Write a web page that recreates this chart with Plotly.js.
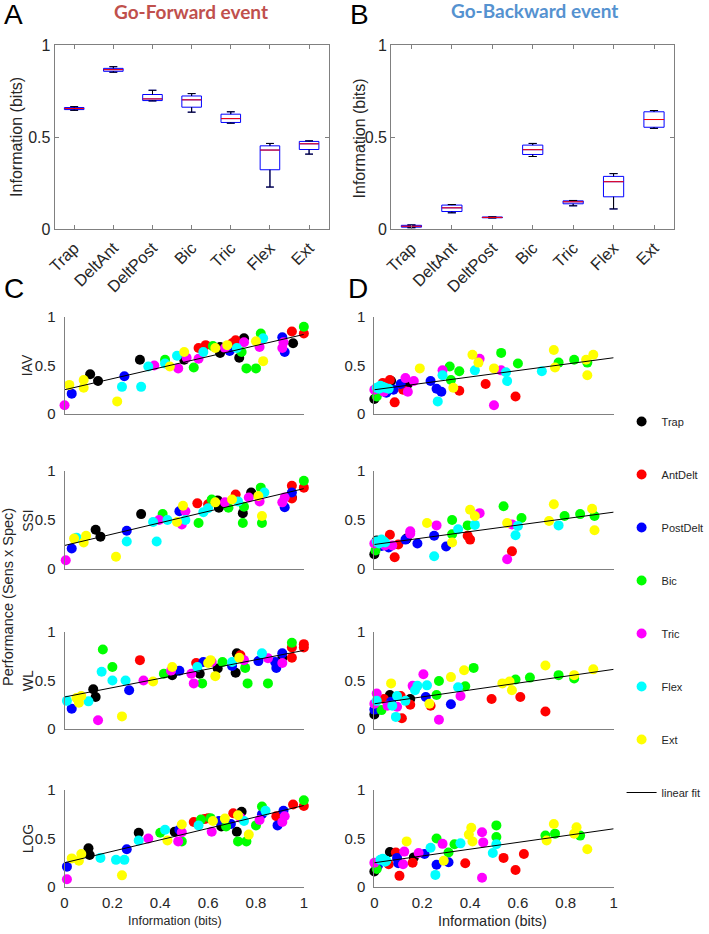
<!DOCTYPE html>
<html><head><meta charset="utf-8">
<script src="https://cdn.plot.ly/plotly-3.0.1.min.js"></script>
<style>body{margin:0;background:#fff}#chart{width:709px;height:934px}</style>
</head><body><div id="chart"></div>
<script>
// ---------- categories ----------
const muscles = ['Trap','AntDelt','PostDelt','Bic','Tric','Flex','Ext'];
const muscleColors = ['#000000','#ff0000','#0000ff','#00ff00','#ff00ff','#00ffff','#ffff00'];
const boxLabels = ['Trap','DeltAnt','DeltPost','Bic','Tric','Flex','Ext'];
const boxPos = [1,2,3,4,5,6,7];

// ---------- Panel A: Go-Forward (box stats) ----------
const fwdLo  = [0.645,0.852,0.696,0.635,0.575,0.228,0.407];
const fwdQ1  = [0.649,0.857,0.698,0.662,0.579,0.322,0.432];
const fwdMed = [0.655,0.866,0.707,0.702,0.600,0.429,0.463];
const fwdQ3  = [0.660,0.873,0.731,0.723,0.624,0.452,0.476];
const fwdHi  = [0.665,0.882,0.754,0.736,0.637,0.465,0.479];

// ---------- Panel B: Go-Backward (box stats) ----------
const bwdLo  = [0.007,0.088,0.060,0.394,0.126,0.109,0.547];
const bwdQ1  = [0.010,0.095,0.061,0.405,0.137,0.175,0.553];
const bwdMed = [0.015,0.115,0.063,0.431,0.148,0.257,0.595];
const bwdQ3  = [0.020,0.130,0.065,0.456,0.153,0.286,0.637];
const bwdHi  = [0.022,0.133,0.066,0.465,0.155,0.301,0.644];

// ---------- Panel C (Go-Forward) scatter: x = information, y = performance, m = muscle index ----------
const cIAV_x = [0.00,0.03,0.02,0.08,0.08,0.107,0.14,0.22,0.25,0.24,0.32,0.315,0.35,0.375,0.42,0.42,0.44,0.475,0.47,0.50,0.50,0.51,0.54,0.56,0.56,0.58,0.59,0.62,0.63,0.65,0.65,0.67,0.68,0.69,0.72,0.715,0.73,0.74,0.75,0.75,0.76,0.80,0.80,0.815,0.82,0.83,0.83,0.91,0.92,0.91,0.915,0.95,0.955,1.0,1.0,0.70];
const cIAV_y = [0.09,0.21,0.30,0.35,0.27,0.41,0.34,0.13,0.39,0.28,0.28,0.56,0.49,0.50,0.52,0.56,0.49,0.47,0.60,0.56,0.64,0.58,0.48,0.57,0.68,0.64,0.71,0.70,0.68,0.63,0.69,0.68,0.71,0.65,0.68,0.76,0.58,0.64,0.78,0.74,0.47,0.47,0.75,0.69,0.83,0.78,0.545,0.79,0.64,0.68,0.74,0.85,0.73,0.83,0.90,0.73];
const cIAV_m = [4,2,6,6,6,0,0,6,2,5,5,0,5,4,5,3,6,4,5,0,6,4,3,4,1,5,1,3,6,0,0,4,6,2,5,1,0,3,0,4,3,3,6,4,3,5,6,2,2,4,4,1,0,1,3,1];

const cSSI_x = [0.005,0.03,0.05,0.04,0.08,0.09,0.13,0.15,0.215,0.26,0.26,0.32,0.37,0.395,0.385,0.41,0.43,0.47,0.49,0.48,0.495,0.505,0.505,0.56,0.555,0.58,0.60,0.615,0.63,0.645,0.64,0.67,0.685,0.70,0.715,0.725,0.745,0.75,0.745,0.78,0.77,0.81,0.815,0.825,0.825,0.82,0.835,0.91,0.92,0.92,0.95,0.95,0.95,1.0,1.0,0.60,0.95];
const cSSI_y = [0.09,0.21,0.32,0.31,0.27,0.34,0.40,0.33,0.125,0.39,0.28,0.56,0.48,0.50,0.28,0.56,0.50,0.48,0.455,0.59,0.645,0.59,0.50,0.47,0.67,0.58,0.62,0.71,0.68,0.625,0.70,0.68,0.625,0.71,0.76,0.69,0.57,0.635,0.47,0.78,0.73,0.745,0.69,0.54,0.47,0.83,0.78,0.68,0.73,0.63,0.85,0.73,0.78,0.83,0.90,0.66,0.72];
const cSSI_m = [4,2,5,6,6,6,0,0,6,2,5,0,5,4,5,3,5,6,4,2,6,4,5,3,1,5,5,3,6,0,0,4,3,6,1,5,0,3,3,0,4,6,4,6,3,3,5,4,4,2,1,0,2,1,3,1,1];

const cWL_x = [0.01,0.03,0.05,0.07,0.06,0.10,0.12,0.13,0.14,0.16,0.155,0.20,0.20,0.24,0.255,0.27,0.315,0.33,0.37,0.415,0.45,0.445,0.45,0.48,0.53,0.54,0.575,0.55,0.555,0.58,0.565,0.60,0.615,0.61,0.63,0.64,0.66,0.70,0.70,0.715,0.72,0.735,0.73,0.75,0.755,0.765,0.81,0.825,0.85,0.85,0.88,0.885,0.91,0.91,0.91,0.95,0.95,0.95,1.0,1.0];
const cWL_y = [0.29,0.21,0.32,0.34,0.27,0.285,0.41,0.33,0.09,0.82,0.59,0.64,0.50,0.13,0.50,0.40,0.71,0.50,0.49,0.57,0.555,0.60,0.64,0.60,0.57,0.47,0.47,0.68,0.64,0.69,0.57,0.68,0.69,0.71,0.545,0.625,0.69,0.69,0.65,0.58,0.78,0.76,0.735,0.71,0.63,0.47,0.70,0.78,0.73,0.47,0.69,0.63,0.68,0.735,0.78,0.735,0.84,0.89,0.84,0.875];
const cWL_m = [5,2,6,6,6,5,0,0,4,3,5,3,5,6,5,2,1,4,6,3,0,4,6,2,4,4,3,1,5,2,0,6,4,6,6,0,3,5,2,0,0,1,6,4,3,3,2,5,4,3,2,2,4,0,2,1,1,3,1,1];

const cLOG_x = [0.01,0.01,0.03,0.06,0.07,0.10,0.105,0.15,0.215,0.25,0.24,0.26,0.31,0.31,0.35,0.40,0.42,0.43,0.46,0.48,0.49,0.475,0.49,0.49,0.54,0.56,0.57,0.585,0.60,0.615,0.61,0.62,0.655,0.645,0.675,0.67,0.695,0.705,0.72,0.74,0.725,0.735,0.75,0.725,0.76,0.77,0.80,0.815,0.825,0.825,0.84,0.885,0.89,0.91,0.92,0.915,0.955,1.0,1.0];
const cLOG_y = [0.08,0.21,0.295,0.27,0.34,0.40,0.33,0.30,0.28,0.28,0.12,0.39,0.56,0.48,0.50,0.56,0.59,0.48,0.57,0.59,0.565,0.47,0.47,0.645,0.67,0.635,0.695,0.70,0.71,0.57,0.71,0.68,0.625,0.68,0.625,0.705,0.65,0.76,0.57,0.775,0.74,0.715,0.68,0.47,0.47,0.54,0.635,0.69,0.75,0.83,0.785,0.73,0.635,0.67,0.73,0.785,0.85,0.835,0.895];
const cLOG_m = [4,2,6,6,6,0,0,5,5,5,6,2,0,5,4,3,5,6,0,2,4,4,3,6,1,5,3,1,1,4,3,6,0,2,3,6,2,1,0,0,6,4,5,3,3,6,3,4,2,3,5,1,2,4,4,2,1,1,3];

// ---------- Panel D (Go-Backward) scatter ----------
const dIAV_x = [0.0,0.01,0.0,0.01,0.015,0.025,0.035,0.04,0.05,0.045,0.06,0.065,0.07,0.08,0.085,0.12,0.11,0.14,0.13,0.14,0.165,0.19,0.235,0.26,0.28,0.265,0.285,0.285,0.315,0.32,0.33,0.355,0.355,0.41,0.42,0.435,0.44,0.465,0.50,0.50,0.53,0.53,0.55,0.555,0.59,0.60,0.70,0.75,0.755,0.77,0.835,0.89,0.885,0.89,0.915,0.02,0.035];
const dIAV_y = [0.155,0.18,0.25,0.27,0.22,0.29,0.32,0.23,0.22,0.27,0.26,0.35,0.34,0.25,0.12,0.25,0.31,0.31,0.37,0.23,0.34,0.47,0.34,0.26,0.23,0.13,0.45,0.40,0.49,0.35,0.27,0.24,0.44,0.61,0.45,0.53,0.57,0.31,0.09,0.47,0.63,0.45,0.43,0.34,0.18,0.52,0.44,0.66,0.48,0.53,0.56,0.53,0.56,0.40,0.61,0.26,0.28];
const dIAV_m = [0,3,4,5,2,5,1,4,2,5,5,1,0,2,1,1,2,0,4,4,4,6,2,2,2,5,4,5,3,3,6,1,3,6,5,6,4,1,4,6,3,4,5,5,1,3,5,6,6,3,3,3,6,6,6,5,5];

const dSSI_x = [0.0,0.005,0.0,0.01,0.01,0.03,0.03,0.045,0.045,0.065,0.06,0.075,0.085,0.10,0.13,0.135,0.15,0.15,0.18,0.22,0.25,0.25,0.26,0.30,0.325,0.325,0.325,0.35,0.39,0.40,0.39,0.40,0.42,0.42,0.44,0.54,0.555,0.555,0.575,0.575,0.59,0.60,0.615,0.73,0.75,0.77,0.795,0.86,0.91,0.92,0.92,0.02,0.04];
const dSSI_y = [0.15,0.19,0.26,0.28,0.29,0.235,0.30,0.24,0.27,0.35,0.22,0.24,0.12,0.25,0.30,0.31,0.36,0.385,0.26,0.47,0.34,0.13,0.445,0.23,0.50,0.355,0.27,0.405,0.34,0.30,0.445,0.605,0.54,0.45,0.57,0.64,0.47,0.10,0.455,0.18,0.345,0.44,0.52,0.49,0.66,0.445,0.54,0.56,0.615,0.395,0.54,0.26,0.28];
const dSSI_m = [0,3,4,5,0,2,5,4,5,1,2,4,1,1,2,0,4,4,2,6,2,5,4,2,3,3,6,5,1,1,3,6,6,5,4,3,6,4,4,1,5,5,3,6,6,5,3,3,6,6,3,5,5];

const dWL_x = [0.0,0.0,0.01,0.01,0.0,0.03,0.04,0.07,0.065,0.055,0.07,0.075,0.09,0.11,0.095,0.095,0.115,0.13,0.15,0.15,0.16,0.17,0.18,0.205,0.215,0.22,0.23,0.235,0.26,0.27,0.27,0.32,0.32,0.35,0.36,0.375,0.38,0.415,0.49,0.535,0.565,0.575,0.59,0.61,0.65,0.715,0.715,0.77,0.835,0.835,0.915];
const dWL_y = [0.15,0.20,0.365,0.29,0.26,0.195,0.31,0.47,0.35,0.24,0.28,0.24,0.125,0.34,0.34,0.23,0.11,0.29,0.31,0.25,0.445,0.40,0.445,0.565,0.33,0.45,0.26,0.24,0.35,0.095,0.495,0.535,0.255,0.43,0.34,0.605,0.44,0.63,0.31,0.47,0.49,0.40,0.51,0.33,0.53,0.18,0.655,0.555,0.555,0.52,0.615];
const dWL_m = [0,2,4,5,4,3,1,6,0,4,2,5,5,1,5,4,1,5,0,1,4,5,5,4,2,5,6,1,3,4,3,6,2,5,4,6,3,3,1,6,6,6,3,1,3,1,6,3,6,3,6];

const dLOG_x = [0.0,0.01,0.0,0.005,0.025,0.065,0.09,0.06,0.035,0.05,0.095,0.10,0.105,0.12,0.125,0.135,0.16,0.165,0.185,0.21,0.235,0.26,0.255,0.26,0.285,0.29,0.31,0.31,0.335,0.36,0.38,0.395,0.405,0.41,0.45,0.455,0.45,0.495,0.51,0.51,0.51,0.54,0.59,0.625,0.715,0.72,0.75,0.755,0.845,0.835,0.86,0.89,0.015,0.045];
const dLOG_y = [0.16,0.185,0.25,0.24,0.28,0.36,0.355,0.235,0.29,0.27,0.30,0.245,0.115,0.235,0.365,0.47,0.25,0.305,0.35,0.34,0.405,0.23,0.125,0.50,0.445,0.27,0.255,0.355,0.44,0.45,0.245,0.54,0.61,0.47,0.565,0.46,0.095,0.35,0.635,0.515,0.44,0.30,0.175,0.34,0.53,0.48,0.65,0.55,0.615,0.55,0.53,0.39,0.22,0.26];
const dLOG_m = [0,3,4,2,5,0,1,1,5,5,2,2,1,4,4,6,1,0,4,2,5,2,5,3,4,6,2,3,3,5,1,6,6,6,4,4,4,5,3,3,5,1,1,1,3,6,6,3,6,6,3,6,2,5];

// ---------- linear fits (value at information = 0 and = 1), rows IAV, SSI, WL, LOG ----------
const rowNames = ['IAV','SSI','WL','LOG'];
const fitC_start = [0.25,0.24,0.33,0.25];
const fitC_end   = [0.82,0.82,0.81,0.84];
const fitD_start = [0.25,0.25,0.26,0.25];
const fitD_end   = [0.58,0.58,0.615,0.60];

// ---------- build ----------
const W = 709, H = 934;
const px = v => v / W, py = v => 1 - v / H;
const FONT = '"Liberation Sans", Arial, sans-serif';
const TXT = '#262626', AXC = '#808080';
const traces = [];

function addBox(lo,q1,med,q3,hi,ax,ay){
  traces.push({type:'box', x:boxPos, q1:q1, median:med, q3:q3, lowerfence:lo, upperfence:hi,
    width:0.5, whiskerwidth:0.4, boxpoints:false, fillcolor:'rgba(0,0,0,0)',
    line:{color:'#0000ff', width:1}, xaxis:ax, yaxis:ay, showlegend:false, hoverinfo:'skip'});
  const wx=[], wy=[];
  boxPos.forEach((p,i)=>{
    wx.push(p,p,null,p,p,null,p-0.1,p+0.1,null,p-0.1,p+0.1,null);
    wy.push(q3[i],hi[i],null,q1[i],lo[i],null,hi[i],hi[i],null,lo[i],lo[i],null);
  });
  traces.push({type:'scatter', mode:'lines', x:wx, y:wy, line:{color:'#000000', width:1}, xaxis:ax, yaxis:ay, showlegend:false, hoverinfo:'skip'});
  const mx=[], my=[];
  boxPos.forEach((p,i)=>{ mx.push(p-0.25,p+0.25,null); my.push(med[i],med[i],null); });
  traces.push({type:'scatter', mode:'lines', x:mx, y:my, line:{color:'#ff0000', width:1}, xaxis:ax, yaxis:ay, showlegend:false, hoverinfo:'skip'});
}
addBox(fwdLo,fwdQ1,fwdMed,fwdQ3,fwdHi,'x','y');
addBox(bwdLo,bwdQ1,bwdMed,bwdQ3,bwdHi,'x2','y2');

function addScatter(xs,ys,ms,ax,ay,f0,f1,legend){
  muscles.forEach((name,k)=>{
    const sx=[], sy=[];
    ms.forEach((m,i)=>{ if(m===k){ sx.push(xs[i]); sy.push(ys[i]); } });
    traces.push({type:'scatter', mode:'markers', x:sx, y:sy, name:name, legendgroup:name, showlegend:legend,
      marker:{color:muscleColors[k], size:10, line:{width:0}}, cliponaxis:false, xaxis:ax, yaxis:ay, hoverinfo:'skip'});
  });
  traces.push({type:'scatter', mode:'lines', x:[0,1], y:[f0,f1], name:'linear fit', legendgroup:'fit', showlegend:legend,
    line:{color:'#000000', width:1}, xaxis:ax, yaxis:ay, hoverinfo:'skip'});
}
const cData = [[cIAV_x,cIAV_y,cIAV_m],[cSSI_x,cSSI_y,cSSI_m],[cWL_x,cWL_y,cWL_m],[cLOG_x,cLOG_y,cLOG_m]];
const dData = [[dIAV_x,dIAV_y,dIAV_m],[dSSI_x,dSSI_y,dSSI_m],[dWL_x,dWL_y,dWL_m],[dLOG_x,dLOG_y,dLOG_m]];
cData.forEach((d,r)=>addScatter(d[0],d[1],d[2],'x'+(3+r),'y'+(3+r),fitC_start[r],fitC_end[r],r===0));
dData.forEach((d,r)=>addScatter(d[0],d[1],d[2],'x'+(7+r),'y'+(7+r),fitD_start[r],fitD_end[r],false));

const rowsPx = [[317,414],[471,569],[632,729],[790,887]];
const layout = {
  width:W, height:H, margin:{l:0,r:0,t:0,b:0}, paper_bgcolor:'#ffffff', plot_bgcolor:'rgba(0,0,0,0)',
  font:{family:FONT, color:TXT, size:15},
  showlegend:true,
  legend:{x:px(626), y:py(407), xanchor:'left', yanchor:'top', traceorder:'grouped', tracegroupgap:34,
    font:{family:FONT, size:11, color:TXT}, bgcolor:'rgba(0,0,0,0)'},
  annotations:[], shapes:[]
};
function boxAxes(n, x0, x1){
  const s = n===1?'':String(n);
  layout['xaxis'+s] = {domain:[px(x0),px(x1)], anchor:'y'+s, range:[0.5,7.5], tickvals:boxPos, ticktext:boxLabels,
    tickangle:-45, ticks:'inside', ticklen:4, tickcolor:AXC, showline:true, mirror:'ticks', linecolor:AXC, linewidth:1,
    showgrid:false, zeroline:false, tickfont:{size:16.5, color:TXT}, ticklabelstandoff:2, fixedrange:true};
  layout['yaxis'+s] = {domain:[py(229),py(45)], anchor:'x'+s, range:[0,1], tickvals:[0,0.5,1], ticktext:['0','0.5','1'],
    ticks:'inside', ticklen:4, tickcolor:AXC, showline:true, mirror:'ticks', linecolor:AXC, linewidth:1,
    showgrid:false, zeroline:false, tickfont:{size:16, color:TXT}, fixedrange:true};
}
boxAxes(1,55,331); boxAxes(2,394,679);
function scatAxes(n, x0, x1, row){
  const s = String(n), r = rowsPx[row], bottom = row===3;
  layout['xaxis'+s] = {domain:[px(x0),px(x1)], anchor:'y'+s, range:[0,1], tickvals:[0,0.2,0.4,0.6,0.8,1],
    ticktext:['0','0.2','0.4','0.6','0.8','1'], showticklabels:bottom, ticks:'', showline:true, linecolor:AXC, linewidth:1,
    showgrid:false, zeroline:false, tickfont:{size:15, color:TXT}, ticklabelstandoff:2, fixedrange:true};
  layout['yaxis'+s] = {domain:[py(r[1]),py(r[0])], anchor:'x'+s, range:[0,1], tickvals:[0,0.5,1], ticktext:['0','0.5','1'],
    ticks:'', showline:true, linecolor:AXC, linewidth:1, showgrid:false, zeroline:false, tickfont:{size:15, color:TXT},
    ticklabelstandoff:5, fixedrange:true};
}
for(let r=0;r<4;r++){ scatAxes(3+r,65,306,r); scatAxes(7+r,377,618,r); }

function ann(text,x,y,size,opts){
  layout.annotations.push(Object.assign({text:text, x:px(x), y:py(y), xref:'paper', yref:'paper', showarrow:false,
    xanchor:'center', yanchor:'middle', font:{family:FONT, size:size, color:TXT}}, opts||{}));
}
ann('A',14,14,28,{font:{family:FONT,size:28,color:'#000'}});
ann('B',362,14,28,{font:{family:FONT,size:28,color:'#000'}});
ann('C',14,288,28,{font:{family:FONT,size:28,color:'#000'}});
ann('D',361,288,28,{font:{family:FONT,size:28,color:'#000'}});
ann('Go-Forward event',192,12,19,{font:{family:'Lato, "Open Sans", sans-serif',size:19,color:'#c0504d',weight:'bold'}});
ann('Go-Backward event',538,11,19,{font:{family:'Lato, "Open Sans", sans-serif',size:19,color:'#5592d0',weight:'bold'}});
ann('Information (bits)',16,137,16,{textangle:-90});
ann('Information (bits)',362,138,16,{textangle:-90});
rowNames.forEach((nm,r)=>ann(nm,28,(rowsPx[r][0]+rowsPx[r][1])/2,14,{textangle:-90}));
ann('Performance (Sens x Spec)',8,597,14.5,{textangle:-90});
ann('Information (bits)',176,921,12.5);
ann('Information (bits)',496,921,14.5);

Plotly.newPlot('chart', traces, layout, {staticPlot:true, displayModeBar:false});
</script></body></html>
